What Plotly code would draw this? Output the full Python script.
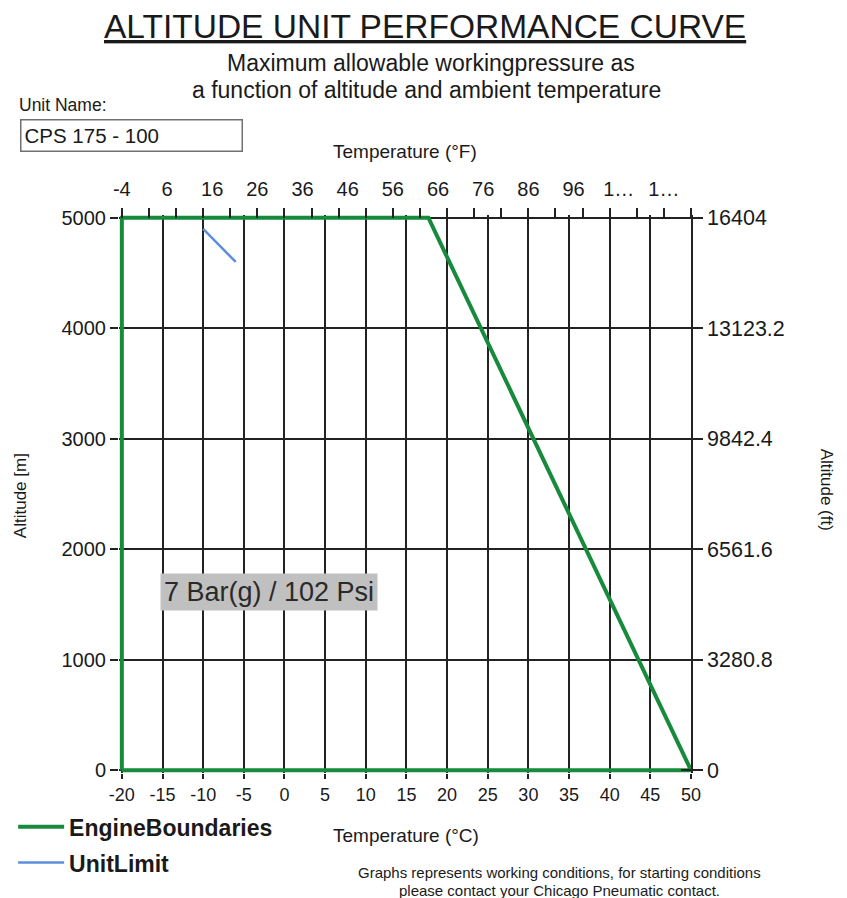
import plotly.graph_objects as go

# ---------------- data ----------------
engine_temp_c = [-20, -20, 17.7, 50, -20]
engine_alt_m = [0, 5000, 5000, 0, 0]

unit_temp_c = [-10, -6]
unit_alt_m = [4900, 4600]

c_ticks = [-20, -15, -10, -5, 0, 5, 10, 15, 20, 25, 30, 35, 40, 45, 50]
c_labels = ["-20", "-15", "-10", "-5", "0", "5", "10", "15", "20", "25", "30", "35", "40", "45", "50"]
m_ticks = [0, 1000, 2000, 3000, 4000, 5000]
ft_ticks = [0, 3280.8, 6561.6, 9842.4, 13123.2, 16404]
ft_labels = ["0", "3280.8", "6561.6", "9842.4", "13123.2", "16404"]
f_label_vals = [-4, 6, 16, 26, 36, 46, 56, 66, 76, 86, 96, 106, 116]
f_label_text = ["-4", "6", "16", "26", "36", "46", "56", "66", "76", "86", "96", "1…", "1…"]
f_minor_vals = [-4, 2, 8, 14, 20, 26, 32, 38, 44, 50, 56, 62, 68, 74, 80, 86, 92, 98, 104, 110, 116, 122]

pressure_label = "7 Bar(g) / 102 Psi"
unit_name = "CPS 175 - 100"

# ---------------- layout constants ----------------
W, H = 847, 898
L, R, T, B = 118.85, 156.3, 215.24, 125.24
X_RANGE = [-20.35, 50]
Y_RANGE = [-25, 5025]
M_TO_FT = 3.2808
FONT = "Liberation Sans, Arial, sans-serif"
GREEN = "#178A3C"
BLUE = "#5B8FDA"
GRID = "#222222"
TXT = "#1a1a1a"

pw = W - L - R
ph = H - T - B


def px(x):
    return (x - L) / pw


def py(y):
    return (H - B - y) / ph


fig = go.Figure()
fig.add_trace(go.Scatter(
    x=engine_temp_c, y=engine_alt_m, mode="lines",
    name="<b>EngineBoundaries</b>", legendgroup="a",
    line=dict(color=GREEN, width=4), hoverinfo="skip"))
fig.add_trace(go.Scatter(
    x=unit_temp_c, y=unit_alt_m, mode="lines",
    name="<b>UnitLimit</b>", legendgroup="b",
    line=dict(color=BLUE, width=2.5), hoverinfo="skip"))

top_pos = (5000 - Y_RANGE[0]) / (Y_RANGE[1] - Y_RANGE[0])
f_range = [X_RANGE[0] * 1.8 + 32, X_RANGE[1] * 1.8 + 32]
ft_range = [Y_RANGE[0] * M_TO_FT, Y_RANGE[1] * M_TO_FT]

fig.update_layout(
    width=W, height=H, autosize=False,
    margin=dict(l=L, r=R, t=T, b=B, pad=0),
    paper_bgcolor="white", plot_bgcolor="white",
    font=dict(family=FONT, color=TXT),
    showlegend=True,
    legend=dict(x=px(13), y=py(805), xanchor="left", yanchor="top",
                font=dict(size=23, color=TXT, family=FONT), itemwidth=46,
                tracegroupgap=3, bgcolor="rgba(0,0,0,0)", traceorder="grouped"),
    xaxis=dict(range=X_RANGE, tickvals=c_ticks, ticktext=c_labels, ticks="outside", ticklen=5,
               tickcolor=GRID, tickwidth=1.5, tickfont=dict(size=18, color=TXT),
               showgrid=True, gridcolor=GRID, gridwidth=1.5, zeroline=False,
               showline=False, anchor="y", fixedrange=True, automargin=False),
    yaxis=dict(range=Y_RANGE, tickvals=m_ticks, ticks="outside", ticklen=8,
               tickcolor=GRID, tickwidth=1.5, tickfont=dict(size=20, color=TXT),
               showgrid=True, gridcolor=GRID, gridwidth=1.5, zeroline=False,
               showline=False, anchor="x", fixedrange=True, automargin=False),
    yaxis2=dict(range=ft_range, tickvals=ft_ticks, ticktext=ft_labels,
                overlaying="y", side="right", anchor="x",
                ticks="outside", ticklen=10, tickcolor=GRID, tickwidth=1.5,
                tickfont=dict(size=21.5, color=TXT), showgrid=False, zeroline=False,
                showline=True, linecolor=GRID, linewidth=1.5, fixedrange=True,
                automargin=False),
    yaxis3=dict(range=ft_range, tickvals=ft_ticks, overlaying="y", side="right",
                anchor="x", ticks="inside", ticklen=10, tickcolor=GRID, tickwidth=1.5,
                showticklabels=False, showgrid=False, zeroline=False,
                showline=False, fixedrange=True, automargin=False),
    xaxis2=dict(range=f_range, tickvals=f_label_vals, ticktext=f_label_text,
                overlaying="x", side="top", anchor="free", position=top_pos,
                ticks="outside", ticklen=14, tickcolor="rgba(0,0,0,0)",
                tickfont=dict(size=20, color=TXT), showgrid=False, zeroline=False,
                showline=False, fixedrange=True, automargin=False),
    xaxis3=dict(range=f_range, tickvals=f_minor_vals, overlaying="x", side="top",
                anchor="free", position=top_pos, ticks="outside", ticklen=10,
                tickcolor=GRID, tickwidth=1.5, showticklabels=False, showgrid=False,
                zeroline=False, showline=False, fixedrange=True, automargin=False),
)

# invisible traces to bind the secondary axes
fig.add_trace(go.Scatter(x=[None], y=[None], xaxis="x2", yaxis="y2", showlegend=False, hoverinfo="skip"))
fig.add_trace(go.Scatter(x=[None], y=[None], xaxis="x3", yaxis="y3", showlegend=False, hoverinfo="skip"))


def ann(text, x, y, size, **kw):
    d = dict(text=text, x=px(x), y=py(y), xref="paper", yref="paper",
             showarrow=False, font=dict(size=size, color=TXT, family=FONT),
             xanchor=kw.pop("xanchor", "center"), yanchor=kw.pop("yanchor", "middle"))
    d.update(kw)
    fig.add_annotation(**d)


ann("<u>ALTITUDE UNIT PERFORMANCE CURVE</u>", 425, 27, 33.5)
ann("Maximum allowable workingpressure as", 431, 63, 23)
ann("a function of altitude and ambient temperature", 426, 90, 23)
ann("Unit Name:", 17, 105, 17.5, xanchor="left")
ann(unit_name, 20, 136, 20.5, xanchor="left", width=214, height=24, align="left",
    bordercolor="#707070", borderwidth=1.5, borderpad=3, bgcolor="white")
ann("Temperature (°F)", 405, 152, 19)
ann("Temperature (°C)", 406, 835, 19)
ann("Altitude [m]", 20, 496, 17, textangle=-90)
ann("Altitude (ft)", 826, 490, 17, textangle=90)
ann("Graphs represents working conditions, for starting conditions", 559, 872, 15)
ann("please contact your Chicago Pneumatic contact.", 559, 890, 15)

fig.add_annotation(text=pressure_label, x=-1.9, y=1612, xref="x", yref="y",
                   showarrow=False, font=dict(size=27, color="#2a2a2a", family=FONT),
                   bgcolor="#C0C0C0", borderpad=3)

fig.write_html("out.html", config={"displayModeBar": False},
               post_script="document.body.style.margin='0px';document.body.style.overflow='hidden';")
